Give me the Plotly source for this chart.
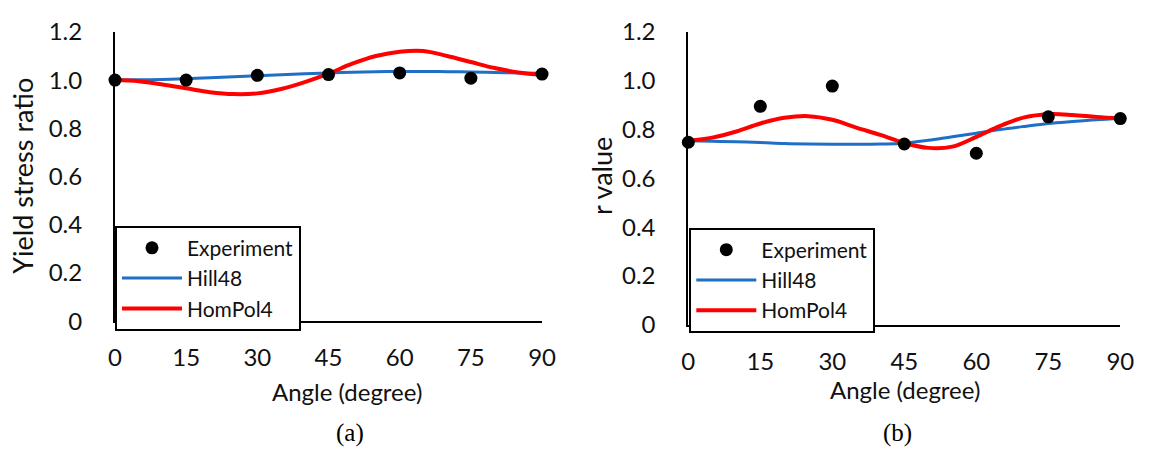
import plotly.graph_objects as go

# ---------------- data ----------------
angles_exp = [0, 15, 30, 45, 60, 75, 90]
yield_exp = [1.000, 1.000, 1.020, 1.023, 1.030, 1.008, 1.025]
r_exp = [0.748, 0.895, 0.978, 0.741, 0.703, 0.852, 0.845]

angles_fit = [0, 5, 10, 15, 20, 25, 30, 35, 40, 45, 50, 55, 60, 65, 70, 75, 80, 85, 90]
yield_hill48 = [1.000, 1.001, 1.003, 1.006, 1.010, 1.014, 1.018, 1.022, 1.026, 1.030,
                1.033, 1.035, 1.036, 1.036, 1.035, 1.034, 1.032, 1.030, 1.028]
yield_hompol4 = [1.000, 0.995, 0.982, 0.966, 0.950, 0.942, 0.945, 0.963, 0.992, 1.027,
                 1.068, 1.100, 1.118, 1.121, 1.100, 1.075, 1.050, 1.032, 1.022]
r_hill48 = [0.754, 0.752, 0.750, 0.747, 0.743, 0.741, 0.740, 0.740, 0.741, 0.744,
            0.756, 0.771, 0.785, 0.800, 0.813, 0.825, 0.833, 0.840, 0.845]
r_hompol4 = [0.754, 0.767, 0.792, 0.825, 0.848, 0.855, 0.840, 0.808, 0.778, 0.745,
             0.725, 0.730, 0.770, 0.815, 0.850, 0.863, 0.860, 0.852, 0.846]

x_ticks = [0, 15, 30, 45, 60, 75, 90]
y_ticks = [0, 0.2, 0.4, 0.6, 0.8, 1.0, 1.2]
y_ticktext = ["0", "0.2", "0.4", "0.6", "0.8", "1.0", "1.2"]

# ---------------- style ----------------
W, H = 1150, 453
FONT = "Lato"
TXT = "#111111"
BLUE = "#1F6FC5"
RED = "#FF0000"


def px_x(p):
    return p / W


def px_y(p):
    return 1 - p / H


fig = go.Figure()

panels = [
    dict(xa="x", ya="y", legend="legend", fits=(yield_hill48, yield_hompol4), exp=yield_exp),
    dict(xa="x2", ya="y2", legend="legend2", fits=(r_hill48, r_hompol4), exp=r_exp),
]

for pnl in panels:
    fig.add_trace(go.Scatter(
        x=angles_fit, y=pnl["fits"][0], mode="lines", name="Hill48",
        line=dict(color=BLUE, width=3, shape="spline"),
        xaxis=pnl["xa"], yaxis=pnl["ya"], legend=pnl["legend"], legendrank=2,
        cliponaxis=False))
    fig.add_trace(go.Scatter(
        x=angles_fit, y=pnl["fits"][1], mode="lines", name="HomPol4",
        line=dict(color=RED, width=4, shape="spline"),
        xaxis=pnl["xa"], yaxis=pnl["ya"], legend=pnl["legend"], legendrank=3,
        cliponaxis=False))
    fig.add_trace(go.Scatter(
        x=angles_exp, y=pnl["exp"], mode="markers", name="Experiment",
        marker=dict(color="black", size=13),
        xaxis=pnl["xa"], yaxis=pnl["ya"], legend=pnl["legend"], legendrank=1,
        cliponaxis=False))

xaxis_common = dict(
    range=[0, 90], tickvals=x_ticks, showgrid=False, zeroline=False,
    showline=True, linecolor="black", linewidth=2, ticks="",
    ticklabelstandoff=14, tickfont=dict(family=FONT, size=24, color=TXT),
)
yaxis_common = dict(
    range=[0, 1.2], tickvals=y_ticks, ticktext=y_ticktext, showgrid=False,
    zeroline=False, showline=True, linecolor="black", linewidth=2, ticks="",
    ticklabelstandoff=26, tickfont=dict(family=FONT, size=24, color=TXT),
)

legend_common = dict(
    bgcolor="white", bordercolor="black", borderwidth=2,
    font=dict(family=FONT, size=21, color=TXT),
    xanchor="left", yanchor="top", itemwidth=60, tracegroupgap=0,
)

fig.update_layout(
    width=W, height=H, margin=dict(l=0, r=0, t=0, b=0),
    paper_bgcolor="white", plot_bgcolor="white",
    showlegend=True,
    xaxis=dict(domain=[px_x(110), px_x(545)], anchor="y", **xaxis_common),
    yaxis=dict(domain=[px_y(326), px_y(17)], anchor="x", **yaxis_common),
    xaxis2=dict(domain=[px_x(694), px_x(1134)], anchor="y2", **xaxis_common),
    yaxis2=dict(domain=[px_y(330), px_y(17)], anchor="x2", **yaxis_common),
    legend=dict(x=px_x(110), y=px_y(224), **legend_common),
    legend2=dict(x=px_x(695), y=px_y(226), **legend_common),
)

title_font = dict(family=FONT, size=24, color=TXT)
ytitle_font = dict(family=FONT, size=27, color=TXT)
cap_font = dict(family="Liberation Serif", size=25, color="black")
annotations = [
    dict(text="Yield stress ratio", x=px_x(15), y=px_y(171), textangle=-90, font=ytitle_font),
    dict(text="r value", x=px_x(605), y=px_y(171), textangle=-90, font=ytitle_font),
    dict(text="Angle (degree)", x=px_x(346), y=px_y(401), font=title_font),
    dict(text="Angle (degree)", x=px_x(915), y=px_y(399), font=title_font),
    dict(text="(a)", x=px_x(349), y=px_y(446), font=cap_font),
    dict(text="(b)", x=px_x(907), y=px_y(446), font=cap_font),
]
for a in annotations:
    fig.add_annotation(xref="paper", yref="paper", showarrow=False,
                       xanchor="center", yanchor="middle", **a)

fig.write_html("out.html")
